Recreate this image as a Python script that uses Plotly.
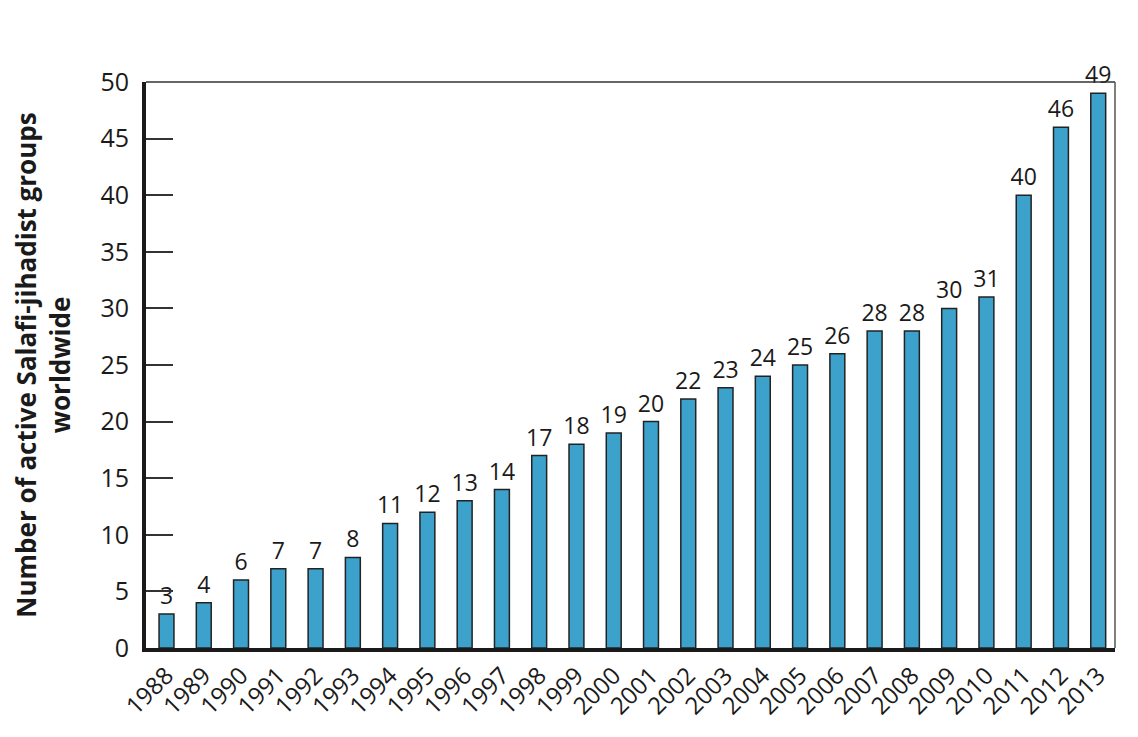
import plotly.graph_objects as go

years = [str(y) for y in range(1988, 2014)]
groups = [3, 4, 6, 7, 7, 8, 11, 12, 13, 14, 17, 18, 19, 20,
          22, 23, 24, 25, 26, 28, 28, 30, 31, 40, 46, 49]
y_ticks = [0, 5, 10, 15, 20, 25, 30, 35, 40, 45, 50]

fig = go.Figure()

fig.add_trace(go.Bar(
    x=years,
    y=groups,
    text=groups,
    textposition='outside',
    constraintext='none',
    cliponaxis=False,
    textfont=dict(size=23, color='#1a1a1a'),
    marker=dict(color='#3ca2cc', line=dict(color='#222222', width=1.5)),
))

# thin frame on top and right
fig.add_shape(type='line', xref='paper', yref='paper', x0=0, x1=1, y0=1, y1=1,
              line=dict(color='#333333', width=1.5))
fig.add_shape(type='line', xref='paper', yref='paper', x0=1, x1=1, y0=0, y1=1,
              line=dict(color='#555555', width=1.5))

# page body has an 8px margin, so the figure is a bit smaller
fig.update_layout(
    width=1130, height=729,
    margin=dict(l=138, r=23, t=74, b=89),
    plot_bgcolor='white',
    paper_bgcolor='white',
    bargap=0.6,
    showlegend=False,
    font=dict(family='Open Sans, Noto Sans, sans-serif', color='#1a1a1a'),
)

fig.update_xaxes(
    tickangle=-45,
    tickfont=dict(size=24),
    showline=True, linecolor='#1a1a1a', linewidth=4,
    ticks='', showgrid=False, automargin=False,
    range=[-0.55, 25.45],
)

fig.update_yaxes(
    title=dict(text='<b>Number of active Salafi-jihadist groups<br>worldwide</b>',
               font=dict(size=26), standoff=24),
    range=[0, 50],
    tickvals=y_ticks,
    tickfont=dict(size=25),
    ticklabelstandoff=8,
    showline=True, linecolor='#1a1a1a', linewidth=4,
    ticks='inside', ticklen=27, tickwidth=1.5, tickcolor='#333333',
    showgrid=False, zeroline=False, automargin=False,
)

fig.write_html("out.html")
